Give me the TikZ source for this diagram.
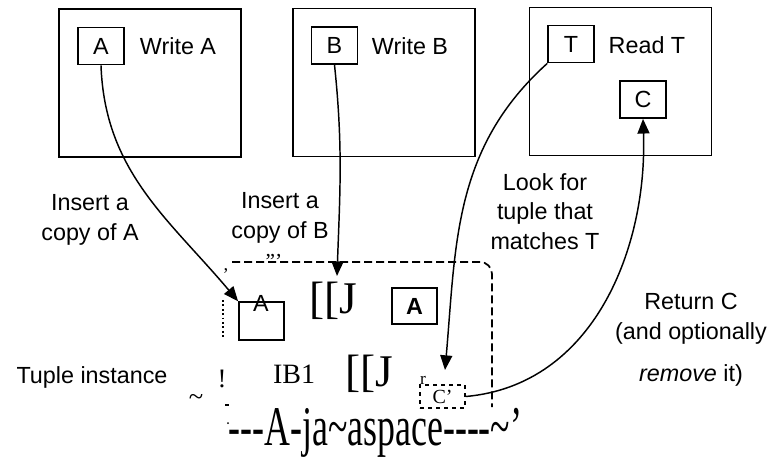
\documentclass[tikz,border=0pt]{standalone}
\usepackage{graphicx}
\usepackage{fontspec}
\setmainfont{Liberation Serif}
\setsansfont{Liberation Sans}
\usetikzlibrary{arrows.meta,positioning}

\begin{document}
\begin{tikzpicture}[
		x=0.75pt, y=0.75pt,
		proc/.style={
			rectangle,
			draw=black,
			line width=1.1pt,
			minimum width=136.5pt,
			minimum height=111pt,
			inner sep=0pt
		},
		tuple/.style={
			rectangle,
			draw=black,
			line width=1.1pt,
			minimum width=34.5pt,
			minimum height=28pt,
			inner sep=0pt,
			font=\sffamily\fontsize{17.5}{21}\selectfont
		},
		lbl/.style={
			align=center,
			inner sep=0pt,
			font=\sffamily\fontsize{17.5}{22}\selectfont
		},
		scan/.style={inner sep=0pt, anchor=base, font=\rmfamily\fontsize{#1}{#1}\selectfont},
		arrow/.style={-{Triangle[length=11pt,width=9pt]},line width=1.1pt,draw=black},
		tspace/.style={line width=1.3pt,dash pattern=on 6pt off 3pt}
	]
	\useasboundingbox (0,0) rectangle (775,-457);

	% the three processes
	\node[proc] (procA) at (150,-83) {};
	\node[proc] (procB) at (384,-82.5) {};
	\node[proc] (procT) at (620.5,-81.5) {};
	\node[tuple] (tA) at (101,-46) {A};
	\node[tuple] (tB) at (334.5,-45.5) {B};
	\node[tuple] (tT) at (571,-44) {T};
	\node[tuple] (tC) at (643,-99.5) {C};
	\node[lbl] (wA) at (178,-46) {Write A};
	\node[lbl] (wB) at (410,-46) {Write B};
	\node[lbl] (rT) at (647,-45) {Read T};

	% labels
	\node[lbl] (insA) at (90,-220) {Insert a\\copy of A};
	\node[lbl] (insB) at (280,-218) {Insert a\\copy of B};
	\node[lbl] (look) at (545,-211.5) {Look for\\tuple that\\matches T};
	\node[lbl] (ret) at (691,-340) {Return C\\(and optionally\\[10pt]\textit{remove} it)};
	\node[lbl] (inst) at (92,-377) {Tuple instance};

	% tuple space (as scanned)
	\draw[tspace, rounded corners=9pt] (232,-262) -- (492,-262) -- (492,-407);
	\draw[line width=1.3pt, dotted] (223,-300) -- (223,-337);
	\draw[line width=1pt] (225,-405) -- (229,-405);
	\fill (228,-423) circle (1);
	\node[scan=14] (comma) at (226,-270) {,};
	\node[scan=16] (quo) at (274,-268) {"'};
	\node[tuple, minimum width=34pt, minimum height=28.5pt] (ins) at (261.5,-321) {};
	\node[inner sep=0pt, font=\sffamily\fontsize{17.5}{21}\selectfont] (insLab) at (261,-303.5) {A};
	\node[tuple, font=\sffamily\bfseries\fontsize{17.5}{21}\selectfont, minimum width=33.75pt, minimum height=27pt] (tA2) at (414.5,-306) {A};
	\node[scan=34] (bj1) at (333.5,-313) {[[J};
	\node[scan=34] (bj2) at (369.5,-386) {[[J};
	\node[scan=21] (ib) at (294,-383) {IB1};
	\node[scan=20] (bang) at (222,-387) {!};
	\node[scan=20] (tilde) at (196,-405) {\textasciitilde};
	\node[scan=13] (rr) at (423,-384) {r};
	\node[draw, dashed, line width=1pt, minimum width=33.75pt, minimum height=17.25pt, inner sep=0pt,
		font=\rmfamily\fontsize{15}{15}\selectfont] (Cp) at (442.5,-396.5) {C'};
	\node[scan=42] (tsname) at (375.5,-445) {\scalebox{0.64}[1]{-{}-{}-A-ja\textasciitilde aspace-{}-{}-{}-\textasciitilde'}};

	% connectors
	\coordinate (bIn) at (337,-276);
	\coordinate (tIn) at (445,-370);
	\draw[arrow] (tA.south) to[out=-88,in=130] (ins.north west);
	\draw[arrow] (tB.south) to[out=-84,in=88] (bIn);
	\draw[arrow] (tT.south west) to[out=222,in=85] (tIn);
	\draw[arrow] (Cp.east) to[out=5,in=-88] (tC.south);
\end{tikzpicture}
\end{document}
